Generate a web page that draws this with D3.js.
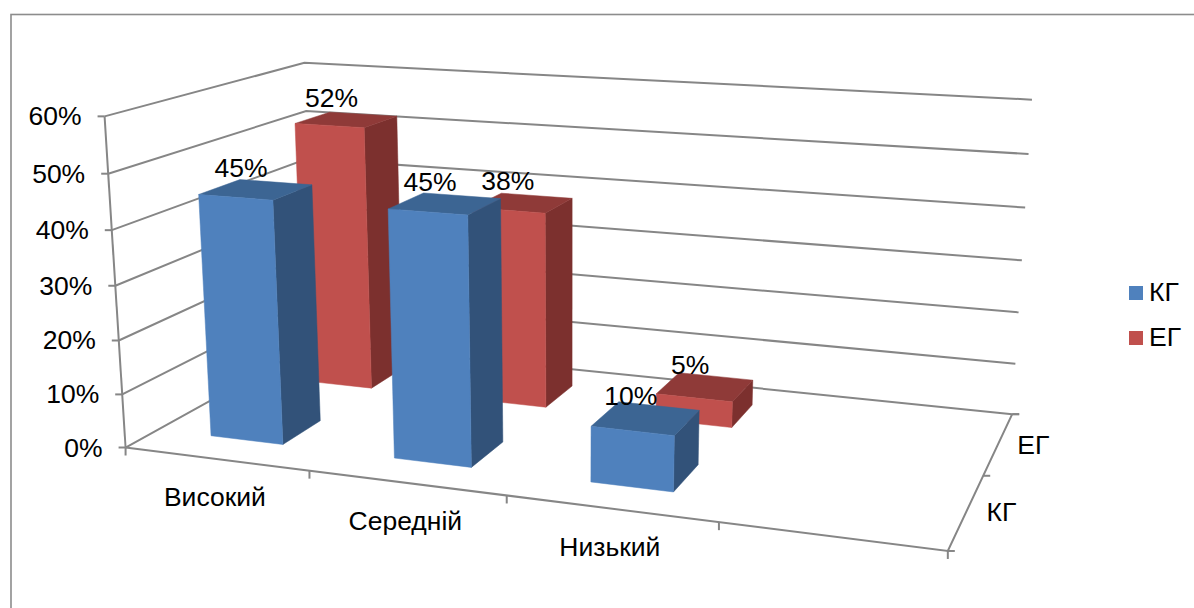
<!DOCTYPE html>
<html lang="uk">
<head>
<meta charset="utf-8">
<script src="https://cdn.jsdelivr.net/npm/d3@7"></script>
<style>
html,body{margin:0;padding:0;background:#fff;overflow:hidden}
svg{display:block}
text{font-family:"Liberation Sans",Arial,sans-serif;fill:#000}
</style>
</head>
<body>
<svg id="chart" width="1194" height="608"></svg>
<script>
// ---- data ----
const categories = ["Високий", "Середній", "Низький", ""];
const seriesNames = ["КГ", "ЕГ"];
const valuesKG = [0.45, 0.45, 0.10, null];
const valuesEG = [0.52, 0.38, 0.05, null];
const valueTicks = [0, 0.1, 0.2, 0.3, 0.4, 0.5, 0.6];

// ---- style and layout ----
const palette = {
  "КГ": {front: "#4F81BD", side: "#325279", top: "#3C6593"},
  "ЕГ": {front: "#C0504D", side: "#7C302E", top: "#8F3A38"}
};
const axisColor = "#868686";
const fontSize = 26.5;

// Camera calibration: unit-cube corners [x, y, z] and where the plot box corners sit on screen
const cubeCorners = [
  [0,0,0],[0,1,0],[1,0,0],[0,0,1],[0,1,1],[1,0,1],[1,1,1]
];
const screenCorners = [
  [125,446],[105,117],[948,552],[315,344.5],[304,62],[1012,413],[1032,100]
];

function solve(A, b) {
  const n = b.length, M = A.map((r, i) => [...r, b[i]]);
  for (let c = 0; c < n; c++) {
    let p = c;
    for (let r = c + 1; r < n; r++) if (Math.abs(M[r][c]) > Math.abs(M[p][c])) p = r;
    [M[c], M[p]] = [M[p], M[c]];
    for (let r = 0; r < n; r++) {
      if (r === c) continue;
      const f = M[r][c] / M[c][c];
      for (let k = c; k <= n; k++) M[r][k] -= f * M[c][k];
    }
  }
  return M.map((r, i) => r[n] / r[i]);
}
function fitCamera(cube, screen) {
  const rows = [], rhs = [];
  cube.forEach(([x,y,z], i) => {
    const u = screen[i][0] / 1000, v = screen[i][1] / 1000;
    rows.push([x,y,z,1,0,0,0,0,-u*x,-u*y,-u*z]); rhs.push(u);
    rows.push([0,0,0,0,x,y,z,1,-v*x,-v*y,-v*z]); rhs.push(v);
  });
  const ata = d3.range(11).map(i => d3.range(11).map(j => d3.sum(rows, r => r[i]*r[j])));
  const atb = d3.range(11).map(i => d3.sum(rows, (r, k) => r[i]*rhs[k]));
  return solve(ata, atb);
}
const cam = fitCamera(cubeCorners, screenCorners);
function project(x, y, z) {
  const w = cam[8]*x + cam[9]*y + cam[10]*z + 1;
  return [1000*(cam[0]*x + cam[1]*y + cam[2]*z + cam[3]) / w,
          1000*(cam[4]*x + cam[5]*y + cam[6]*z + cam[7]) / w];
}

// ---- scales ----
const xScale = d3.scaleBand().domain(categories).range([0, 1]).paddingInner(0.6).paddingOuter(0.3);
const zScale = d3.scaleBand().domain(seriesNames).range([0, 1]).paddingInner(0.6).paddingOuter(0.3);
const yScale = d3.scaleLinear().domain([0, 0.6]).range([0, 1]);
const pct = d3.format(".0%");
const xEdge = i => i / categories.length;
const zEdge = i => i / seriesNames.length;

const svg = d3.select("#chart");
const line = d3.line();

// ---- chart frame ----
svg.append("rect").attr("x", 11).attr("y", 14.5).attr("width", 2000).attr("height", 2000)
  .attr("fill", "#fff").attr("stroke", "#8c8c8c").attr("stroke-width", 1.6);

// ---- walls, floor, axes ----
const axes = svg.append("g").attr("fill", "none").attr("stroke", axisColor).attr("stroke-width", 2);
valueTicks.forEach(v => {
  const y = yScale(v);
  const pts = [project(0,y,0), project(0,y,1), project(1,y,1)];
  axes.append("path").attr("d", line(pts));
  const p = pts[0];
  axes.append("path").attr("d", line([[p[0]-7,p[1]], p]));
  if (v === 0) axes.append("path").attr("d", line([pts[2], [pts[2][0]+7, pts[2][1]]]));
});
axes.append("path").attr("d", line([project(0,yScale(0),0), project(0,yScale(0.6),0)]));
axes.append("path").attr("d", line([project(0,0,0), project(1,0,0), project(1,0,1)]));
d3.range(categories.length + 1).forEach(i => {
  const p = project(xEdge(i), 0, 0);
  axes.append("path").attr("d", line([p, [p[0], p[1]+8]]));
});
d3.range(seriesNames.length + 1).forEach(i => {
  const p = project(1, 0, zEdge(i));
  axes.append("path").attr("d", line([p, [p[0]+7, p[1]]]));
});

// ---- value tick labels ----
svg.append("g").selectAll("text").data(valueTicks).join("text")
  .attr("x", d => project(0, yScale(d), 0)[0] - 23)
  .attr("y", d => project(0, yScale(d), 0)[1] + 2)
  .attr("text-anchor", "end").attr("dominant-baseline", "middle")
  .attr("font-size", fontSize).text(pct);

// ---- category labels ----
svg.append("g").selectAll("text").data(categories.filter(d => d)).join("text")
  .attr("x", (d, i) => project((xEdge(i) + xEdge(i+1)) / 2, 0, 0)[0] - 1)
  .attr("y", (d, i) => project((xEdge(i) + xEdge(i+1)) / 2, 0, 0)[1] + 40.5)
  .attr("text-anchor", "middle").attr("dominant-baseline", "middle")
  .attr("font-size", fontSize).text(d => d);

// ---- series labels on depth axis ----
svg.append("g").selectAll("text").data(seriesNames).join("text")
  .attr("x", (d, i) => project(1, 0, (zEdge(i) + zEdge(i+1)) / 2)[0] + 35)
  .attr("y", (d, i) => project(1, 0, (zEdge(i) + zEdge(i+1)) / 2)[1] + 3)
  .attr("text-anchor", "middle").attr("dominant-baseline", "middle")
  .attr("font-size", fontSize).text(d => d);

// ---- bars (back series first) ----
const seriesValues = {"КГ": valuesKG, "ЕГ": valuesEG};
const barsG = svg.append("g"), labelsG = svg.append("g");
[...seriesNames].reverse().forEach(name => {
  const z0 = zScale(name), z1 = z0 + zScale.bandwidth(), col = palette[name];
  categories.forEach((cat, i) => {
    const v = seriesValues[name][i];
    if (v == null) return;
    const x0 = xScale(cat), x1 = x0 + xScale.bandwidth(), y = yScale(v);
    const face = (pts, fill) => barsG.append("path")
      .attr("d", line(pts) + "Z").attr("fill", fill).attr("stroke", fill).attr("stroke-width", 0.5);
    face([project(x1,0,z0), project(x1,0,z1), project(x1,y,z1), project(x1,y,z0)], col.side);
    face([project(x0,y,z0), project(x1,y,z0), project(x1,y,z1), project(x0,y,z1)], col.top);
    face([project(x0,0,z0), project(x1,0,z0), project(x1,y,z0), project(x0,y,z0)], col.front);
    const c = project((x0+x1)/2, y, (z0+z1)/2);
    labelsG.append("text").attr("x", c[0]-15).attr("y", c[1]-20)
      .attr("text-anchor", "middle").attr("dominant-baseline", "middle")
      .attr("font-size", fontSize).text(pct(v));
  });
});

// ---- legend ----
const legend = svg.append("g").selectAll("g").data(seriesNames).join("g")
  .attr("transform", (d, i) => `translate(1129,${286 + i*45})`);
legend.append("rect").attr("width", 14).attr("height", 14).attr("fill", d => palette[d].front);
legend.append("text").attr("x", 20).attr("y", 8).attr("dominant-baseline", "middle")
  .attr("font-size", fontSize).text(d => d);
</script>
</body>
</html>
